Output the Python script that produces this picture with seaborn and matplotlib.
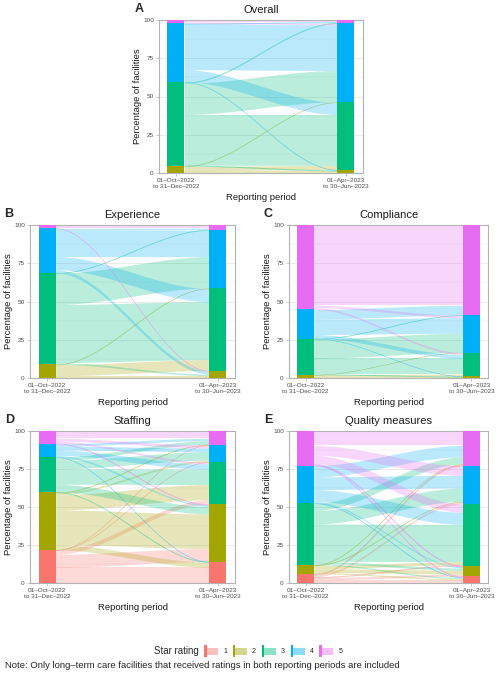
import numpy as np
import pandas as pd
import seaborn as sns
import matplotlib.pyplot as plt
from matplotlib.patches import Rectangle

sns.set_theme(style="white")
plt.rcParams["font.family"] = ["Liberation Sans", "DejaVu Sans"]

# ── data ────────────────────────────────────────────────────────────
ratings = ["1", "2", "3", "4", "5"]
star_colours = ["#F8766D", "#A3A500", "#00BF7D", "#00B0F6", "#E76BF3"]
periods = ["01–Oct–2022\nto 31–Dec–2022", "01–Apr–2023\nto 30–Jun–2023"]

# rows = rating in first period, columns = rating in second period (% of facilities)
overall = [[0.0, 0.0, 0.0, 0.0, 0.0],
           [0.0, 1.5, 2.8, 0.3, 0.0],
           [0.0, 0.5, 33.2, 20.5, 0.5],
           [0.0, 0.2, 8.0, 29.8, 0.5],
           [0.0, 0.0, 0.0, 1.0, 1.2]]

experience = [[0.0, 0.0, 0.0, 0.0, 0.0],
              [0.0, 1.5, 7.2, 0.3, 0.0],
              [0.0, 1.1, 37.9, 20.5, 0.3],
              [0.0, 2.0, 8.6, 17.4, 1.0],
              [0.0, 0.2, 0.0, 0.0, 2.0]]

compliance = [[0.0, 0.0, 0.0, 0.0, 0.0],
              [0.0, 0.8, 1.3, 0.1, 0.0],
              [0.0, 0.4, 10.3, 12.6, 0.3],
              [0.0, 0.1, 2.5, 10.1, 6.3],
              [0.0, 0.0, 1.2, 1.6, 52.4]]

staffing = [[10.3, 8.5, 2.8, 0.1, 0.1],
            [3.4, 22.7, 10.0, 1.2, 0.4],
            [0.3, 5.0, 10.0, 5.5, 2.3],
            [0.1, 1.0, 3.5, 2.5, 1.6],
            [0.0, 0.5, 1.2, 1.9, 4.8]]

quality = [[2.0, 1.5, 0.6, 1.3, 0.7],
           [0.8, 2.5, 2.0, 0.3, 0.3],
           [0.8, 1.5, 24.5, 8.9, 4.7],
           [0.3, 0.8, 8.0, 8.3, 7.5],
           [0.5, 0.7, 5.5, 6.5, 9.5]]

panels = [("A", "Overall", overall),
          ("B", "Experience", experience),
          ("C", "Compliance", compliance),
          ("D", "Staffing", staffing),
          ("E", "Quality measures", quality)]


def to_long(mat):
    rows = []
    for i in range(len(ratings)):
        for j in range(len(ratings)):
            rows.append((i, j, mat[i][j]))
    df = pd.DataFrame(rows, columns=["src", "dst", "pct"])
    df["pct"] = df.pct / df.pct.sum() * 100
    return df


def draw_alluvial(ax, mat, width=0.1, alpha=0.27):
    df = to_long(mat)
    n = len(ratings)
    # lode positions: left axis stacked by origin then destination,
    # right axis stacked by destination then origin
    left = df.sort_values(["src", "dst"])
    df.loc[left.index, "y_left"] = left.pct.cumsum() - left.pct
    right = df.sort_values(["dst", "src"])
    df.loc[right.index, "y_right"] = right.pct.cumsum() - right.pct

    t = np.linspace(0, 1, 100)
    s = t * t * (3 - 2 * t)
    xs = 1 + width / 2 + (1 - width) * t
    for _, f in df[df.pct > 0].iterrows():
        lo = f.y_left + (f.y_right - f.y_left) * s
        thin = f.pct < 0.8
        ax.fill_between(xs, lo, lo + f.pct, color=star_colours[int(f.src)],
                        alpha=0.3 if thin else alpha, lw=0.3 if thin else 0)

    for k, col in enumerate(["src", "dst"]):
        tot = df.groupby(col).pct.sum().reindex(range(n), fill_value=0)
        bottoms = tot.cumsum() - tot
        ax.bar([k + 1] * n, tot.values, bottom=bottoms.values, width=width,
               color=star_colours, linewidth=0, zorder=3)


def style_axes(ax, title):
    ax.set_xlim(0.9, 2.1)
    ax.set_ylim(0, 100)
    ax.set_xticks([1, 2], periods)
    ax.set_yticks([0, 25, 50, 75, 100])
    ax.set_yticks([12.5, 37.5, 62.5, 87.5], minor=True)
    ax.grid(False)
    ax.grid(axis="y", which="major", color="#e3e3e3", lw=0.5)
    ax.grid(axis="y", which="minor", color="#ececec", lw=0.35)
    ax.set_axisbelow(True)
    for sp in ax.spines.values():
        sp.set_color("#b3b3b3")
        sp.set_linewidth(0.8)
    ax.tick_params(axis="both", which="major", labelsize=4.6, labelcolor="#4d4d4d",
                   color="#b3b3b3", length=2.2, width=0.5, pad=1.5, left=True, bottom=True)
    ax.tick_params(which="minor", length=0)
    ax.set_xlabel("Reporting period", fontsize=6.8, labelpad=3, color="#1a1a1a")
    ax.set_ylabel("Percentage of facilities", fontsize=6.8, labelpad=1, color="#1a1a1a")
    ax.set_title(title, fontsize=8, pad=5, color="#1a1a1a")


W, H = 498, 680
fig = plt.figure(figsize=(W / 100, H / 100), dpi=100)


def px_axes(l, t, r, b):
    return fig.add_axes([l / W, 1 - b / H, (r - l) / W, (b - t) / H])


boxes = {"A": (159, 20, 363, 173),
         "B": (30, 225, 235, 378),
         "C": (289, 225, 488, 378),
         "D": (30, 431, 235, 583),
         "E": (289, 431, 488, 583)}
letter_pos = {"A": (139, 8.5), "B": (9, 214), "C": (268, 214),
              "D": (9.5, 420), "E": (268, 420)}

for letter, title, mat in panels:
    ax = px_axes(*boxes[letter])
    draw_alluvial(ax, mat)
    style_axes(ax, title)
    lx, ly = letter_pos[letter]
    fig.text(lx / W, 1 - ly / H, letter, fontsize=9, fontweight="bold",
             ha="center", va="center")

# ── legend ──────────────────────────────────────────────────────────
lg = fig.add_axes([0, 0, 1, 1], zorder=-1)
lg.set_xlim(0, W)
lg.set_ylim(H, 0)
lg.axis("off")
lg.text(199, 651, "Star rating", fontsize=6.9, ha="right", va="center")
for k, (lab, col) in enumerate(zip(ratings, star_colours)):
    x = 204.3 + k * 28.75
    lg.add_patch(Rectangle((x + 2.4, 647.5), 11.6, 7, color=col, alpha=0.45, lw=0))
    lg.add_patch(Rectangle((x, 645), 2.4, 12, color=col, lw=0))
    lg.text(x + 19, 651.5, lab, fontsize=5, ha="left", va="center")

fig.text(5 / W, 1 - 666 / H,
         "Note: Only long–term care facilities that received ratings in both reporting periods are included",
         fontsize=6.8, ha="left", va="center")

fig.savefig("out.png", dpi=100)
